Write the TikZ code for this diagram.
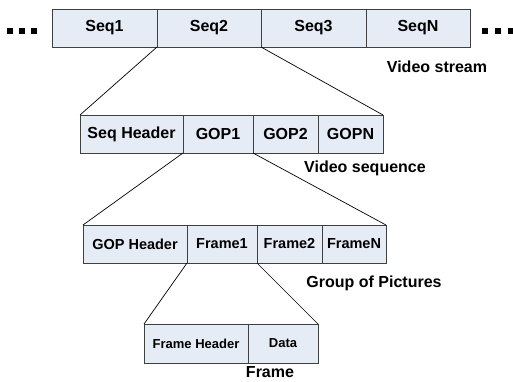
\documentclass[tikz,border=0pt]{standalone}
\usepackage{fontspec}
\setmainfont{Liberation Sans}
\usetikzlibrary{positioning}
\definecolor{cellfill}{RGB}{230,236,246}
\definecolor{celldraw}{RGB}{64,64,64}
\tikzstyle{cell} = [
rectangle, draw=celldraw, fill=cellfill, line width=0.9pt,
outer sep=0pt, inner sep=0pt, minimum height=38pt,
text centered, font=\bfseries\fontsize{16}{16}\selectfont
]
\tikzstyle{cell_gop} = [cell, font=\bfseries\fontsize{14.5}{14.5}\selectfont]
\tikzstyle{cell_frame} = [cell, minimum height=39pt, font=\bfseries\fontsize{13}{13}\selectfont]
\tikzstyle{caption} = [font=\bfseries\fontsize{16}{16}\selectfont]
\tikzstyle{zoomline} = [line width=0.7pt]

\begin{document}
\begin{tikzpicture}[x=1pt, y=-1pt]
			\useasboundingbox (0,0) rectangle (513,381);

			% Video stream
			\node (Seq_1) [cell, anchor=north west, minimum width=105pt] at (52,9) {Seq1};
			\node (Seq_2) [cell, right=0pt of Seq_1, minimum width=104pt] {Seq2};
			\node (Seq_3) [cell, right=0pt of Seq_2, minimum width=105pt] {Seq3};
			\node (Seq_N) [cell, right=0pt of Seq_3, minimum width=104pt] {SeqN};
			\foreach \x in {9.5, 21.5, 34, 485, 497.5, 510.5}
				\fill (\x-3,27.5) rectangle (\x+3,33.5);
			\node (L_stream) [caption] at (437,67) {Video stream};

			% Video sequence
			\node (Seq_H) [cell, anchor=north west, minimum width=103pt] at (80,115) {Seq Header};
			\node (GOP_1) [cell, right=0pt of Seq_H, minimum width=70pt] {GOP1};
			\node (GOP_2) [cell, right=0pt of GOP_1, minimum width=65pt] {GOP2};
			\node (GOP_N) [cell, right=0pt of GOP_2, minimum width=65pt] {GOPN};
			\node (L_sequence) [caption] at (365,168) {Video sequence};

			% Group of pictures
			\node (GOP_H) [cell_gop, anchor=north west, minimum width=104pt] at (83,225) {GOP Header};
			\node (Frame_1) [cell_gop, right=0pt of GOP_H, minimum width=70pt] {Frame1};
			\node (Frame_2) [cell_gop, right=0pt of Frame_1, minimum width=65pt] {Frame2};
			\node (Frame_N) [cell_gop, right=0pt of Frame_2, minimum width=64pt] {FrameN};
			\node (L_gop) [caption] at (374,283) {Group of Pictures};

			% Frame
			\node (Frame_H) [cell_frame, anchor=north west, minimum width=104pt] at (144,324) {Frame Header};
			\node (Data) [cell_frame, right=0pt of Frame_H, minimum width=70pt] {Data};
			\node (L_frame) [caption] at (270,372) {Frame};

			% Zoom lines
			\draw [zoomline] (Seq_2.south west) -- (Seq_H.north west);
			\draw [zoomline] (Seq_3.south west) -- (GOP_N.north east);
			\draw [zoomline] (GOP_1.south west) -- (GOP_H.north west);
			\draw [zoomline] (GOP_2.south west) -- (Frame_N.north east);
			\draw [zoomline] (Frame_1.south west) -- (Frame_H.north west);
			\draw [zoomline] (Frame_2.south west) -- (Data.north east);

		\end{tikzpicture}
\end{document}
